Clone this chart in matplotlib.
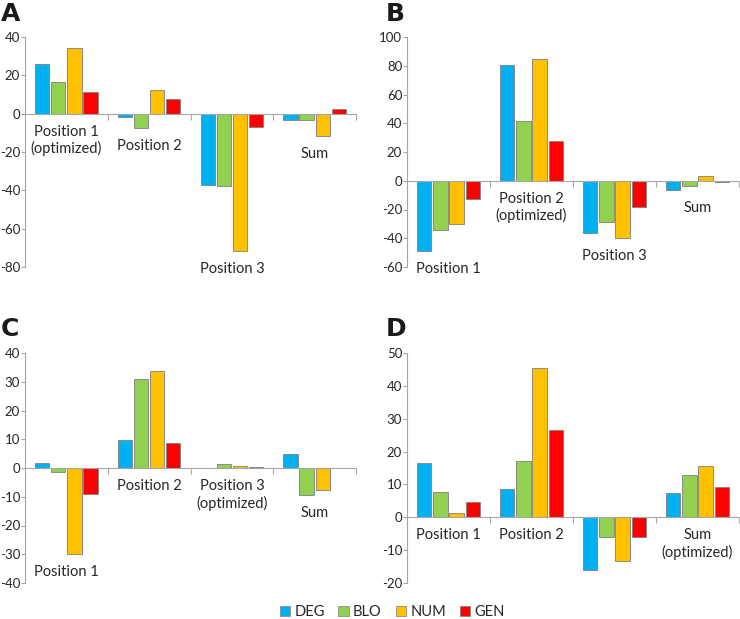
import matplotlib
matplotlib.use('Agg')
import matplotlib.pyplot as plt
import numpy as np
from matplotlib.patches import Patch

plt.rcParams['font.family'] = ['Lato', 'DejaVu Sans']
plt.rcParams['axes.unicode_minus'] = False

# --- data ---
series = ["DEG", "BLO", "NUM", "GEN"]
colors = ["#00B0F0", "#92D050", "#FFC000", "#FF0000"]

labels_a = ["Position 1\n(optimized)", "Position 2", "Position 3", "Sum"]
vals_a = [[26.1, -1.6, -37.1, -3.1],
          [16.7, -7.3, -37.6, -3.1],
          [34.3, 12.5, -71.6, -11.5],
          [11.5, 7.5, -7.0, 2.6]]

labels_b = ["Position 1", "Position 2\n(optimized)", "Position 3", "Sum"]
vals_b = [[-49.0, 80.3, -36.3, -6.7],
          [-34.3, 41.4, -28.9, -3.7],
          [-30.0, 84.5, -40.0, 3.5],
          [-13.0, 27.8, -18.5, -1.2]]

labels_c = ["Position 1", "Position 2", "Position 3\n(optimized)", "Sum"]
vals_c = [[1.7, 9.8, 0.0, 5.0],
          [-1.4, 30.8, 1.4, -9.5],
          [-29.9, 33.9, 0.8, -7.6],
          [-8.9, 8.6, 0.4, -0.1]]

# Position 3 label in D falls outside the plot area in the original
labels_d = ["Position 1", "Position 2", "", "Sum\n(optimized)"]
vals_d = [[16.6, 8.5, -16.0, 7.4],
          [7.8, 17.2, -6.1, 12.9],
          [1.2, 45.3, -13.3, 15.6],
          [4.8, 26.7, -6.0, 9.1]]

panels = [
    ("A", labels_a, vals_a, (-80, 40), 20),
    ("B", labels_b, vals_b, (-60, 100), 20),
    ("C", labels_c, vals_c, (-40, 40), 10),
    ("D", labels_d, vals_d, (-20, 50), 10),
]

W, H = 740, 619
fig = plt.figure(figsize=(W / 100, H / 100), dpi=100)

# axes rectangles in pixels: left, top, right, bottom
boxes = [(25, 37, 356, 267), (407, 37, 739, 267),
         (25, 353, 356, 583), (407, 353, 739, 583)]
letter_pos = [(1, 2), (386, 2), (1, 317), (386, 317)]

axis_col = "#a6a6a6"
text_col = "#262626"
step, width = 0.195, 0.173

for (letter, labels, vals, ylim, tick), box, lp in zip(panels, boxes, letter_pos):
    l, t, r, b = box
    ax = fig.add_axes([l / W, 1 - b / H, (r - l) / W, (b - t) / H])
    ax.set_xlim(0, 4)
    ax.set_ylim(*ylim)
    x = np.arange(4) + 0.5
    for j, (name, col) in enumerate(zip(series, colors)):
        ax.bar(x + (j - 1.5) * step, vals[j], width=width, color=col,
               edgecolor="#7f7f7f", linewidth=0.6, zorder=3)

    for s in ["top", "right"]:
        ax.spines[s].set_visible(False)
    ax.spines["left"].set_color(axis_col)
    ax.spines["bottom"].set_color(axis_col)
    ax.spines["bottom"].set_position(("data", 0))
    ax.spines["bottom"].set_zorder(4)

    ax.set_yticks(np.arange(ylim[0], ylim[1] + 1, tick))
    ax.set_xticks([1, 2, 3, 4])
    ax.set_xticklabels([])
    ax.tick_params(axis="y", direction="out", length=3, color=axis_col,
                   labelsize=9.5, labelcolor=text_col, pad=0.5)
    ax.tick_params(axis="x", direction="out", length=4, color=axis_col)

    # category labels sit under the lowest bar of each group
    for i, lab in enumerate(labels):
        if not lab:
            continue
        low = min(0, min(v[i] for v in vals))
        ax.annotate(lab, (x[i], low), xytext=(0, -8), textcoords="offset points",
                    ha="center", va="top", fontsize=10.5, color=text_col,
                    linespacing=1.2, annotation_clip=False)

    fig.text(lp[0] / W, 1 - lp[1] / H, letter, fontsize=18, fontweight="bold",
             family="DejaVu Sans", ha="left", va="top", color="#1a1a1a")

handles = [Patch(facecolor=c, edgecolor="#7f7f7f", linewidth=0.5) for c in colors]
fig.legend(handles, series, loc="center", bbox_to_anchor=(0.53, 1 - 612 / H),
           ncol=4, frameon=False, fontsize=10.5, handlelength=0.7, handleheight=0.7,
           handletextpad=0.3, columnspacing=0.95, labelcolor=text_col)

fig.savefig("out.png", dpi=100)
